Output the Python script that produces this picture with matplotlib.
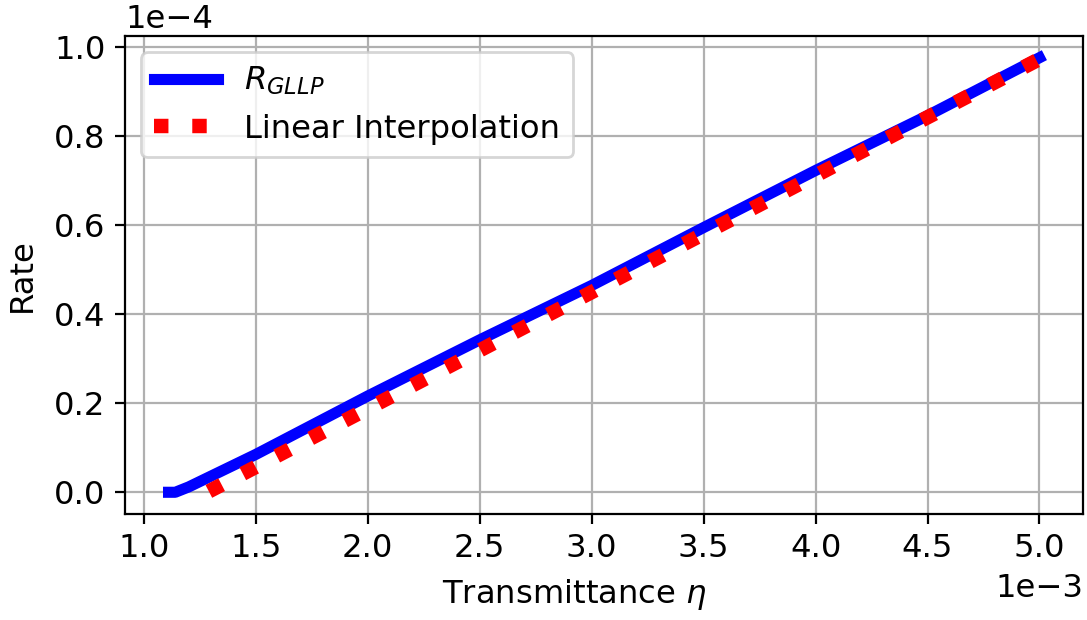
import numpy as np
import matplotlib
matplotlib.use('Agg')
import matplotlib.pyplot as plt

# transmittance (units of 1e-3) and rate (units of 1e-4)
eta_gllp = [1.11, 1.14, 1.20, 1.50, 2.00, 2.50, 3.00, 3.50, 4.00, 4.50, 5.00]
rate_gllp = [0.0, 0.0, 0.012, 0.085, 0.216, 0.342, 0.464, 0.594, 0.722, 0.845, 0.975]

eta_lin = [1.29, 5.00]
rate_lin = [0.002, 0.972]

plt.rcParams['font.size'] = 11.6

fig = plt.figure(figsize=(1087/200, 620/200), dpi=200)
ax = fig.add_subplot(111)
fig.subplots_adjust(left=125/1087, right=1083/1087, top=1-36/620, bottom=1-514/620)

ax.plot(np.array(eta_gllp)*1e-3, np.array(rate_gllp)*1e-4, color='blue', lw=4, label=r'$R_{GLLP}$')
ax.plot(np.array(eta_lin)*1e-3, np.array(rate_lin)*1e-4, color='red', lw=5.2, ls=':', label='Linear Interpolation')

ax.grid(True)
ax.set_xlabel(r'Transmittance $\eta$')
ax.set_ylabel('Rate', labelpad=6)
ax.xaxis.set_label_coords((575-125)/958, -0.132)
ax.ticklabel_format(style='sci', axis='both', scilimits=(0, 0))
ax.legend(loc='upper left')

fig.savefig('out.png', dpi=200)
